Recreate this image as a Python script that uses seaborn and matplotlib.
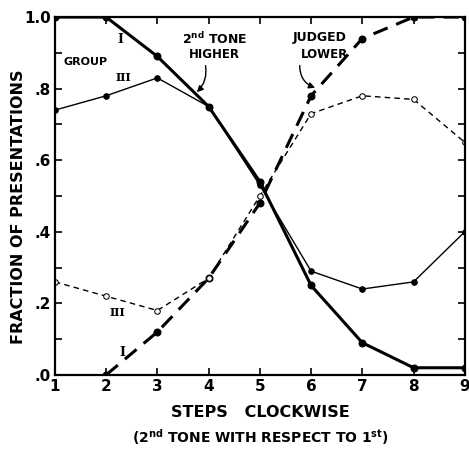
import matplotlib
matplotlib.use("Agg")
import matplotlib.pyplot as plt
import seaborn as sns
import pandas as pd

# =========================================================
# DATA
# =========================================================
steps = [1, 2, 3, 4, 5, 6, 7, 8, 9]

group1_higher = [1.00, 1.00, 0.89, 0.75, 0.54, 0.25, 0.09, 0.02, 0.02]
group1_lower = [None, 0.00, 0.12, 0.27, 0.48, 0.78, 0.94, 1.00, 1.00]
group3_higher = [0.74, 0.78, 0.83, 0.75, 0.53, 0.29, 0.24, 0.26, 0.40]
group3_lower = [0.26, 0.22, 0.18, 0.27, 0.50, 0.73, 0.78, 0.77, 0.65]

x_ticks = [1, 2, 3, 4, 5, 6, 7, 8, 9]
y_ticks = [0.0, 0.2, 0.4, 0.6, 0.8, 1.0]
y_tick_labels = [".0", ".2", ".4", ".6", ".8", "1.0"]

# =========================================================
# STYLE
# =========================================================
sns.set_theme(style="ticks")
plt.rcParams["font.family"] = ["DejaVu Sans"]
plt.rcParams["font.weight"] = "bold"
plt.rcParams["text.color"] = "black"
plt.rcParams["axes.labelcolor"] = "black"
plt.rcParams["xtick.color"] = "black"
plt.rcParams["ytick.color"] = "black"

fig = plt.figure(figsize=(4.69, 4.49), dpi=100)
ax = fig.add_axes([0.117, 0.165, 0.874, 0.797])

df = pd.DataFrame({
    "step": steps,
    "g1_hi": group1_higher,
    "g1_lo": group1_lower,
    "g3_hi": group3_higher,
    "g3_lo": group3_lower,
})

sns.lineplot(data=df, x="step", y="g1_hi", ax=ax, color="black", lw=2.2,
             marker="o", markersize=5, markeredgecolor="black")
sns.lineplot(data=df.dropna(), x="step", y="g1_lo", ax=ax, color="black", lw=2.2,
             linestyle=(0, (5, 3)), marker="o", markersize=5, markeredgecolor="black")
sns.lineplot(data=df, x="step", y="g3_hi", ax=ax, color="black", lw=1.0,
             marker="o", markersize=4, markeredgecolor="black")
sns.lineplot(data=df, x="step", y="g3_lo", ax=ax, color="black", lw=1.0,
             linestyle=(0, (4, 3)), marker="o", markersize=4,
             markerfacecolor="white", markeredgecolor="black")

# =========================================================
# AXES
# =========================================================
ax.set_xlim(1, 9)
ax.set_ylim(0, 1.0)
ax.set_xticks(x_ticks)
ax.set_xticklabels([str(s) for s in x_ticks], fontsize=11, fontweight="bold")
ax.set_yticks(y_ticks)
ax.set_yticklabels(y_tick_labels, fontsize=11, fontweight="bold")
ax.set_yticks([0.1, 0.3, 0.5, 0.7, 0.9], minor=True)
ax.tick_params(direction="in", top=True, right=True, length=5, width=1.2, pad=3)
ax.tick_params(which="minor", direction="in", right=True, length=5, width=1.2)
for sp in ax.spines.values():
    sp.set_linewidth(1.6)
    sp.set_color("black")

ax.set_xlabel("")
ax.set_ylabel("FRACTION OF PRESENTATIONS", fontsize=11.5, fontweight="bold")
ax.yaxis.set_label_coords(-0.07, 0.47)

fig.text(0.555, 0.082, "STEPS   CLOCKWISE", ha="center", va="center",
         fontsize=11.5, fontweight="bold")
fig.text(0.555, 0.027, r"(2$^{\mathrm{nd}}$ TONE WITH RESPECT TO 1$^{\mathrm{st}}$)",
         ha="center", va="center", fontsize=10, fontweight="bold")

# =========================================================
# ANNOTATIONS
# =========================================================
ax.text(1.59, 0.874, "GROUP", ha="center", va="center", fontsize=8, fontweight="bold")
ax.text(2.33, 0.83, "III", ha="center", va="center", fontsize=8, fontweight="bold",
        family="DejaVu Serif")
ax.text(2.27, 0.936, "I", ha="center", va="center", fontsize=9, family="DejaVu Serif")
ax.text(2.23, 0.175, "III", ha="center", va="center", fontsize=8, fontweight="bold",
        family="DejaVu Serif")
ax.text(2.31, 0.064, "I", ha="center", va="center", fontsize=9, family="DejaVu Serif")

ax.text(4.12, 0.938, r"2$^{\mathrm{nd}}$ TONE", ha="center", va="center",
        fontsize=9, fontweight="bold")
ax.text(4.12, 0.894, "HIGHER", ha="center", va="center", fontsize=8.5, fontweight="bold")
ax.text(6.17, 0.944, "JUDGED", ha="center", va="center", fontsize=9, fontweight="bold")
ax.text(6.27, 0.894, "LOWER", ha="center", va="center", fontsize=8.5, fontweight="bold")

ax.annotate("", xy=(3.73, 0.785), xytext=(3.93, 0.872),
            arrowprops=dict(arrowstyle="-|>", color="black", lw=1.0,
                            connectionstyle="arc3,rad=-0.3", mutation_scale=9))
ax.annotate("", xy=(6.13, 0.80), xytext=(5.78, 0.872),
            arrowprops=dict(arrowstyle="-|>", color="black", lw=1.0,
                            connectionstyle="arc3,rad=0.4", mutation_scale=9))

plt.savefig("out.png", dpi=100)
